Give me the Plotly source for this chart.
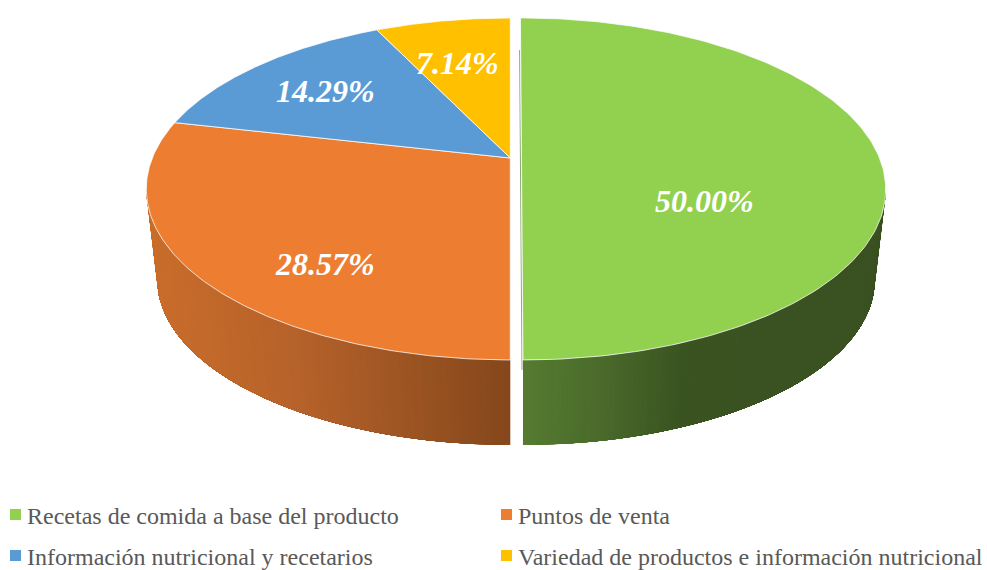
import numpy as np
import plotly.graph_objects as go

categories = ["Recetas de comida a base del producto", "Puntos de venta",
              "Información nutricional y recetarios", "Variedad de productos e información nutricional"]
values = [50.00, 28.57, 14.29, 7.14]
labels = ["50.00%", "28.57%", "14.29%", "7.14%"]
colors = ["#92D050", "#ED7D31", "#5B9BD5", "#FFC000"]

W, H = 987, 570
K = 0.181          # perspective strength of the tilted disc
AY, BX = 165.4, 358.0
SCALE_LOW, DROP = 0.97, 91.0   # lower rim of the disc

def disc(theta, cx, lean=0.0, low=False):
    """Clockwise angle from 12 o'clock (radians) -> page pixels."""
    X, Y = np.sin(theta), np.cos(theta)
    s = SCALE_LOW if low else 1.0
    d = 1 + K * Y
    sy = -AY * s * Y / d
    return cx + BX * s * X / d + lean * sy / 200, 158 + (DROP if low else 0) + sy

def hexmix(stops, x):
    xs = [p for p, _ in stops]
    rgb = [np.interp(x, xs, [int(c[i:i + 2], 16) for _, c in stops]) for i in (1, 3, 5)]
    return "rgb(%d,%d,%d)" % tuple(int(round(v)) for v in rgb)

fracs = np.cumsum([0] + values) / sum(values)
geo = [dict(cx=521.5, lean=1.5), dict(cx=510.3, lean=0), dict(cx=510.3, lean=0), dict(cx=510.3, lean=0)]
side_stops = {
    0: [(523, "#557B30"), (600, "#4A6A2B"), (680, "#3A5321"), (890, "#3A5121")],
    1: [(146, "#CB6E2B"), (300, "#B6622A"), (420, "#9A5322"), (511, "#84471B")],
}

fig = go.Figure()

# side wall: painted strip over strip from the cut towards the silhouette, only on the near half
for i in (1, 0):
    g = geo[i]
    near = np.pi
    tangent = np.arccos(-K) + 0.02
    far = 2 * np.pi - tangent if i == 1 else tangent
    edges = np.linspace(near, far, 121)
    for t0, t1 in zip(edges[:-1], edges[1:]):
        tt = np.linspace(t0, far, 40)
        xu, yu = disc(tt, g["cx"], g["lean"])
        xl, yl = disc(tt, g["cx"], g["lean"], low=True)
        px = np.r_[xu, xl[::-1]]
        py = np.r_[yu, yl[::-1]]
        xm, _ = disc(np.array([(t0 + t1) / 2]), g["cx"], g["lean"], low=True)
        col = hexmix(side_stops[i], float(xm[0]))
        fig.add_trace(go.Scatter(x=px, y=py, mode="lines", fill="toself", fillcolor=col,
                                 line=dict(width=0), hoverinfo="skip", showlegend=False))

# sliver of the cut face beside the green slice
tt = np.array([np.pi])
xb, yb = disc(tt, geo[0]["cx"], geo[0]["lean"])
fig.add_trace(go.Scatter(x=[519.6, xb[0] - 1.0, xb[0] - 1.0], y=[50, yb[0], yb[0] + 10], mode="lines",
                         line=dict(color="#5E7F3E", width=0.7), hoverinfo="skip", showlegend=False))

# top faces
for i, c in enumerate(colors):
    g = geo[i]
    tt = np.linspace(fracs[i], fracs[i + 1], 180) * 2 * np.pi
    xr, yr = disc(tt, g["cx"], g["lean"])
    ax, ay = g["cx"], 158
    fig.add_trace(go.Scatter(x=np.r_[ax, xr, ax], y=np.r_[ay, yr, ay], mode="lines", fill="toself",
                             fillcolor=c, line=dict(color="rgba(255,255,255,0.85)", width=0.9),
                             hoverinfo="skip", showlegend=False))

# data labels
label_pos = [(704, 201), (325, 264), (325, 91), (457, 63)]
for (lx, ly), t in zip(label_pos, labels):
    fig.add_annotation(x=lx, y=ly, text=f"<b><i>{t}</i></b>", showarrow=False, xref="x", yref="y",
                       font=dict(family="Liberation Serif", size=32, color="white"))

# legend, one box per entry so the wide row spacing can be kept
legend_pos = [(-13, 515), (478, 515), (-13, 556), (478, 556)]
legend_ids = ["legend", "legend2", "legend3", "legend4"]
layout_legends = {}
for name, c, lid, (lx, ly) in zip(categories, colors, legend_ids, legend_pos):
    fig.add_trace(go.Scatter(x=[None], y=[None], mode="markers", name=name, legend=lid,
                             marker=dict(symbol="square", size=11, color=c), showlegend=True))
    layout_legends[lid] = dict(x=lx / W, y=1 - ly / H, xanchor="left", yanchor="middle",
                               orientation="v", bgcolor="rgba(0,0,0,0)", borderwidth=0,
                               font=dict(family="Liberation Serif", size=24, color="#595959"))

fig.update_layout(
    width=W, height=H, margin=dict(l=0, r=0, t=0, b=0, autoexpand=False),
    paper_bgcolor="white", plot_bgcolor="white",
    xaxis=dict(range=[0, W], visible=False, fixedrange=True),
    yaxis=dict(range=[H, 0], visible=False, fixedrange=True),
    **layout_legends,
)
# page margin off; legend squares sit closer to their text than Plotly's default gap
fig.write_html("out.html", config={"displayModeBar": False},
               post_script="document.body.style.margin='0';document.documentElement.style.overflow='hidden';"
                           "document.querySelectorAll('.legendsymbols').forEach(function(e){e.setAttribute('transform','translate(8.5,0)');});")
